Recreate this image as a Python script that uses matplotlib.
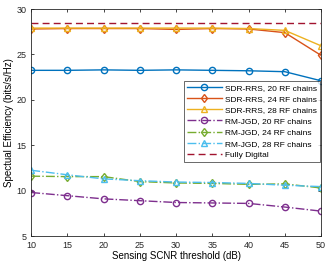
import matplotlib
matplotlib.use("Agg")
from matplotlib import pyplot as plt

plt.rcParams['font.family'] = ['Liberation Sans', 'DejaVu Sans']

snr = [10, 15, 20, 25, 30, 35, 40, 45, 50]

sdr_20 = [23.25, 23.25, 23.3, 23.25, 23.3, 23.25, 23.2, 23.1, 22.1]
sdr_24 = [27.8, 27.85, 27.85, 27.85, 27.75, 27.85, 27.8, 27.4, 24.9]
sdr_28 = [27.9, 27.9, 27.9, 27.9, 27.9, 27.9, 27.85, 27.65, 25.95]
rm_20 = [9.8, 9.45, 9.1, 8.9, 8.7, 8.65, 8.6, 8.2, 7.75]
rm_24 = [11.6, 11.55, 11.55, 11.0, 10.85, 10.8, 10.7, 10.75, 10.3]
rm_28 = [12.25, 11.75, 11.3, 11.1, 10.95, 10.9, 10.8, 10.6, 10.45]
fully_digital = [28.45] * len(snr)

fig = plt.figure(figsize=(3.32, 2.65), dpi=100)
ax = fig.add_axes([0.094, 0.109, 0.873, 0.857])

ms = 4.5
lw = 1.0
ax.plot(snr, sdr_20, '-o', color='#0072BD', lw=lw, ms=ms, mfc='none', mew=1, label='SDR-RRS, 20 RF chains')
ax.plot(snr, sdr_24, '-d', color='#D95319', lw=lw, ms=ms, mfc='none', mew=1, label='SDR-RRS, 24 RF chains')
ax.plot(snr, sdr_28, '-^', color='#EDB120', lw=lw, ms=ms, mfc='none', mew=1, label='SDR-RRS, 28 RF chains')
ax.plot(snr, rm_20, '-.o', color='#7E2F8E', lw=lw, ms=ms, mfc='none', mew=1, label='RM-JGD, 20 RF chains')
ax.plot(snr, rm_24, '-.d', color='#77AC30', lw=lw, ms=ms, mfc='none', mew=1, label='RM-JGD, 24 RF chains')
ax.plot(snr, rm_28, '-.^', color='#4DBEEE', lw=lw, ms=ms, mfc='none', mew=1, label='RM-JGD, 28 RF chains')
ax.plot(snr, fully_digital, '--', dashes=(5, 3), color='#A2142F', lw=lw, label='Fully Digital')

ax.set_xlim(10, 50)
ax.set_ylim(5, 30)
ax.set_xticks(snr)
ax.set_yticks([5, 10, 15, 20, 25, 30])
ax.tick_params(labelsize=6.5, direction='in', length=2.5, width=0.6, colors='#262626', top=True, right=True)
for s in ax.spines.values():
    s.set_linewidth(0.6)
    s.set_color('#262626')
ax.set_xlabel('Sensing SCNR threshold (dB)', fontsize=7, labelpad=1)
ax.set_ylabel('Spectual Efficiency (bits/s/Hz)', fontsize=7, labelpad=2)

leg = ax.legend(loc='upper right', bbox_to_anchor=(1.0, 0.688), fontsize=6, frameon=True,
                fancybox=False, edgecolor='#262626', borderpad=0.35, labelspacing=0.4,
                handlelength=4.2, handletextpad=0.4, borderaxespad=0.15)
leg.get_frame().set_linewidth(0.6)

fig.savefig('out.png', dpi=100)
